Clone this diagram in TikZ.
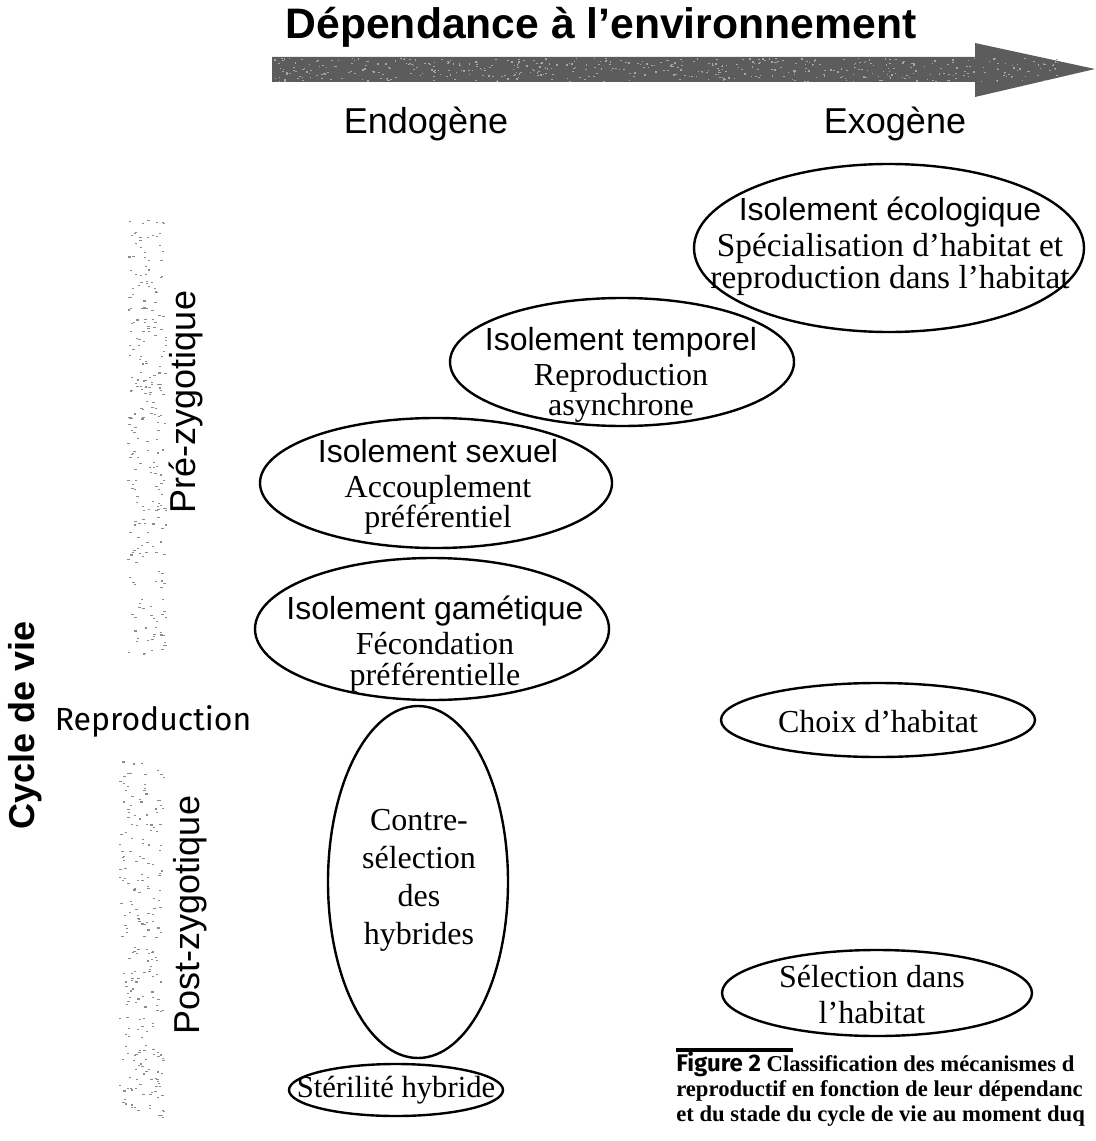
\documentclass[tikz,border=0pt]{standalone}
\usepackage{fontspec}
\setmainfont{Liberation Serif}
\setsansfont{Liberation Sans}
\newfontfamily\comicfont{Fira Sans}
\newfontfamily\capsans{Fira Sans}
\usetikzlibrary{shapes.geometric}
\begin{document}
\begin{tikzpicture}[x=0.75pt,y=-0.75pt,
  ell/.style 2 args={draw, ellipse, line width=1.8pt, inner sep=0pt,
     minimum width={#1*1.5pt}, minimum height={#2*1.5pt}},
  etxt/.style={font=\fontsize{24}{23}\selectfont, align=center, inner sep=0pt},
  axl/.style={font=\sffamily\fontsize{27}{30}\selectfont, inner sep=0pt},
  captxt/.style={font=\bfseries\fontsize{17}{20}\selectfont, anchor=base west, inner sep=0pt},
  speck/.style={fill=black!45}
]
\useasboundingbox (0,0) rectangle (1095,1141);
\begin{scope}
\clip (0,0) rectangle (1095,1141);

% top arrow
\fill[black!64] (272,57) -- (975,57) -- (975,43) -- (1095,69) -- (975,97) -- (975,82) -- (272,82) -- cycle;
\pgfmathsetseed{11}
\foreach \i in {1,...,500}{
  \pgfmathsetmacro\xx{274+790*rnd}
  \pgfmathsetmacro\yy{58+23*rnd}
  \fill[black!35] (\xx,\yy) rectangle ++(1.6,1.2);
}
\node[font=\sffamily\bfseries\fontsize{32}{36}\selectfont, inner sep=0pt] (title) at (601,27) {Dépendance à l’environnement};

\node[axl] (endo) at (426,124) {Endogène};
\node[axl] (exo) at (895,124) {Exogène};

% speckled bars
\foreach \i in {1,...,260}{
  \pgfmathsetmacro\xx{127+38*rnd}
  \pgfmathsetmacro\yy{212+442*rnd}
  \fill[speck] (\xx,\yy) rectangle ++(2.4,1.1);
}
\foreach \i in {1,...,240}{
  \pgfmathsetmacro\xx{118+45*rnd}
  \pgfmathsetmacro\yy{760+357*rnd}
  \fill[speck] (\xx,\yy) rectangle ++(2.4,1.1);
}

\node[axl, rotate=90] (pre) at (186,402) {Pré-zygotique};
\node[axl, rotate=90] (post) at (190,915) {Post-zygotique};
\node[font=\sffamily\bfseries\fontsize{27}{30}\selectfont, rotate=90, inner sep=0pt] (cycle) at (25,725) {Cycle de vie};
\node[font=\comicfont\fontsize{24}{26}\selectfont, inner sep=0pt] (repro) at (153,721) {Reproduction};

% ellipses
\node[ell={195}{84}] (eeco) at (889,248) {};
\node[etxt, font=\fontsize{25}{24}\selectfont] (teco) at (890,246) {{\sffamily\fontsize{24}{24}\selectfont Isolement écologique}\\[3pt] Spécialisation d’habitat et\\ reproduction dans l’habitat};

\node[ell={172}{64}] (etemp) at (622,362) {};
\node[etxt] (ttemp) at (621,375) {{\sffamily Isolement temporel}\\[3pt] Reproduction\\ asynchrone};

\node[ell={176}{65}] (esex) at (436,483) {};
\node[etxt] (tsex) at (438,487) {{\sffamily Isolement sexuel}\\[3pt] Accouplement\\ préférentiel};

\node[ell={177}{71}] (egam) at (432,629) {};
\node[etxt] (tgam) at (435,644) {{\sffamily Isolement gamétique}\\[3pt] Fécondation\\ préférentielle};

\node[ell={90}{176}] (econtre) at (418,882) {};
\node[etxt, font=\fontsize{24}{28.5}\selectfont] (tcontre) at (419,880) {Contre-\\ sélection\\ des\\ hybrides};

\node[ell={107}{26}] (esteril) at (396,1090) {};
\node[etxt, font=\fontsize{23}{26}\selectfont] (tsteril) at (396,1090) {Stérilité hybride};

\node[ell={157}{37}] (echoix) at (878,720) {};
\node[etxt] (tchoix) at (878,722) {Choix d’habitat};

\node[ell={155}{43}] (esel) at (877,993) {};
\node[etxt, font=\fontsize{24}{27}\selectfont] (tsel) at (872,995) {Sélection dans\\ l’habitat};

% caption
\draw[line width=3pt] (676,1050) -- (793,1050);
\node[captxt] (cap1) at (676,1071) {{\capsans\fontsize{18}{20}\selectfont Figure 2} Classification des mécanismes d};
\node[captxt] (cap2) at (676,1096) {reproductif en fonction de leur dépendanc};
\node[captxt] (cap3) at (676,1121) {et du stade du cycle de vie au moment duq};
\end{scope}
\end{tikzpicture}
\end{document}
